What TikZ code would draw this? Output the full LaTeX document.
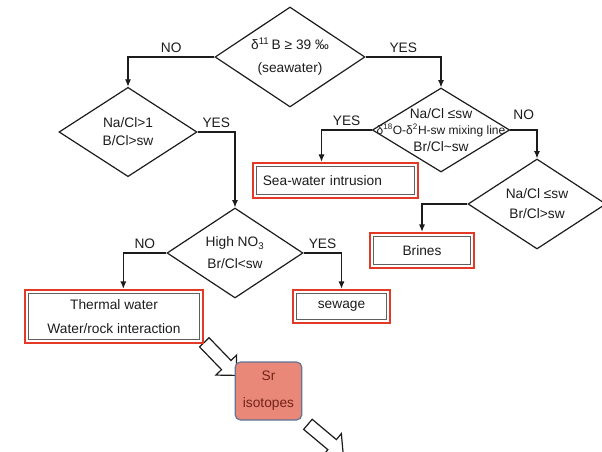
\documentclass[tikz,border=0pt]{standalone}
\usepackage{fontspec}
\setmainfont{Liberation Sans}
\usetikzlibrary{arrows.meta,shapes.geometric,shapes.arrows}
\definecolor{ink}{RGB}{28,28,28}
\definecolor{boxred}{RGB}{226,58,38}
\definecolor{innergray}{RGB}{95,95,95}
\definecolor{srfill}{RGB}{233,135,120}
\definecolor{sredge}{RGB}{96,116,150}
\definecolor{srtext}{RGB}{115,35,25}

\begin{document}
\begin{tikzpicture}[x=0.75pt,y=-0.75pt,>={Latex[length=5.5pt,width=4.5pt]},
    every node/.style={align=center,font=\fontsize{10.3}{12.4}\selectfont,text=ink},
    cond/.style={draw=ink,diamond,line width=0.9pt,inner sep=0pt},
    outcome/.style={draw=boxred,line width=1.8pt,inner sep=0pt,
      path picture={\draw[innergray,line width=0.7pt]
        ([shift={(2.8pt,-2.8pt)}]path picture bounding box.north west) rectangle
        ([shift={(-2.8pt,2.8pt)}]path picture bounding box.south east);}},
    flow/.style={->,draw=ink,line width=0.8pt},
    lbl/.style={above,inner sep=3pt},
    hollow/.style={single arrow,draw=ink,fill=white,line width=0.9pt,inner sep=4.5pt,
      minimum height=34.5pt,single arrow head extend=5.85pt,single arrow tip angle=90}]
  \useasboundingbox (0,0) rectangle (602,452);
  \node[hollow,rotate=-46] (toSr) at (218,356.5) {};
  \node[hollow,rotate=-40] (fromSr) at (323,437) {};
  \node[cond,minimum width=112.5pt,minimum height=75pt,aspect=1.5] (seacheck) at (290,57)
    {δ\textsuperscript{11}\,B ≥ 39 ‰\\[5pt](seawater)};
  \node[cond,minimum width=103.5pt,minimum height=67pt,aspect=1.55] (nacheck) at (128,132)
    {Na/Cl>1\\[1pt]B/Cl>sw};
  \node[cond,minimum width=103pt,minimum height=63pt,aspect=1.63] (mixcheck) at (441,130)
    {Na/Cl ≤sw\\\makebox[0pt]{\fontsize{9}{11}\selectfont δ\textsuperscript{18}O-δ\textsuperscript{2}H-sw mixing line}\\Br/Cl\textasciitilde sw};
  \node[cond,minimum width=103.5pt,minimum height=67.5pt,aspect=1.53] (brcheck) at (537,204)
    {Na/Cl ≤sw\\[2.5pt]Br/Cl>sw};
  \node[cond,minimum width=102pt,minimum height=67.5pt,aspect=1.51] (no3check) at (235,253)
    {High NO\textsubscript{3}\\[4pt]Br/Cl<sw};
  \node[outcome,minimum width=123.75pt,minimum height=26.25pt,text width=109pt,align=left]
    (intrusion) at (335.5,180.5) {Sea-water intrusion};
  \node[outcome,minimum width=78pt,minimum height=26.25pt] (brines) at (422,250.5) {Brines};
  \node[outcome,minimum width=133.5pt,minimum height=39.75pt] (thermal) at (114,316.5)
    {Thermal water\\[5pt]Water/rock interaction};
  \node[outcome,minimum width=72.75pt,minimum height=24.75pt] (sewage) at (341.5,306.5) {sewage};
  \node[draw=sredge,fill=srfill,rounded corners=4pt,line width=0.9pt,text=srtext,
    minimum width=50pt,minimum height=43.5pt] (sr) at (268.5,391) {Sr\\[8pt]isotopes};
  \draw[flow] (seacheck.west) -| node[lbl,pos=0.25]{NO} (nacheck.north);
  \draw[flow] (seacheck.east) -| node[lbl,pos=0.25]{YES} (mixcheck.north);
  \draw[flow] (nacheck.east) -| node[lbl,pos=0.25]{YES} (no3check.north);
  \draw[flow] (mixcheck.west) -| node[lbl,pos=0.25]{YES} ([xshift=-10.5pt]intrusion.north);
  \draw[flow] (mixcheck.east) -| node[lbl,pos=0.25,yshift=4pt]{NO} (brcheck.north);
  \draw[flow] (brcheck.west) -| (brines.north);
  \draw[flow] (no3check.west) -| node[lbl,pos=0.25]{NO} ([xshift=7pt]thermal.north);
  \draw[flow] (no3check.east) -| node[lbl,pos=0.25]{YES} (sewage.north);
\end{tikzpicture}
\end{document}
